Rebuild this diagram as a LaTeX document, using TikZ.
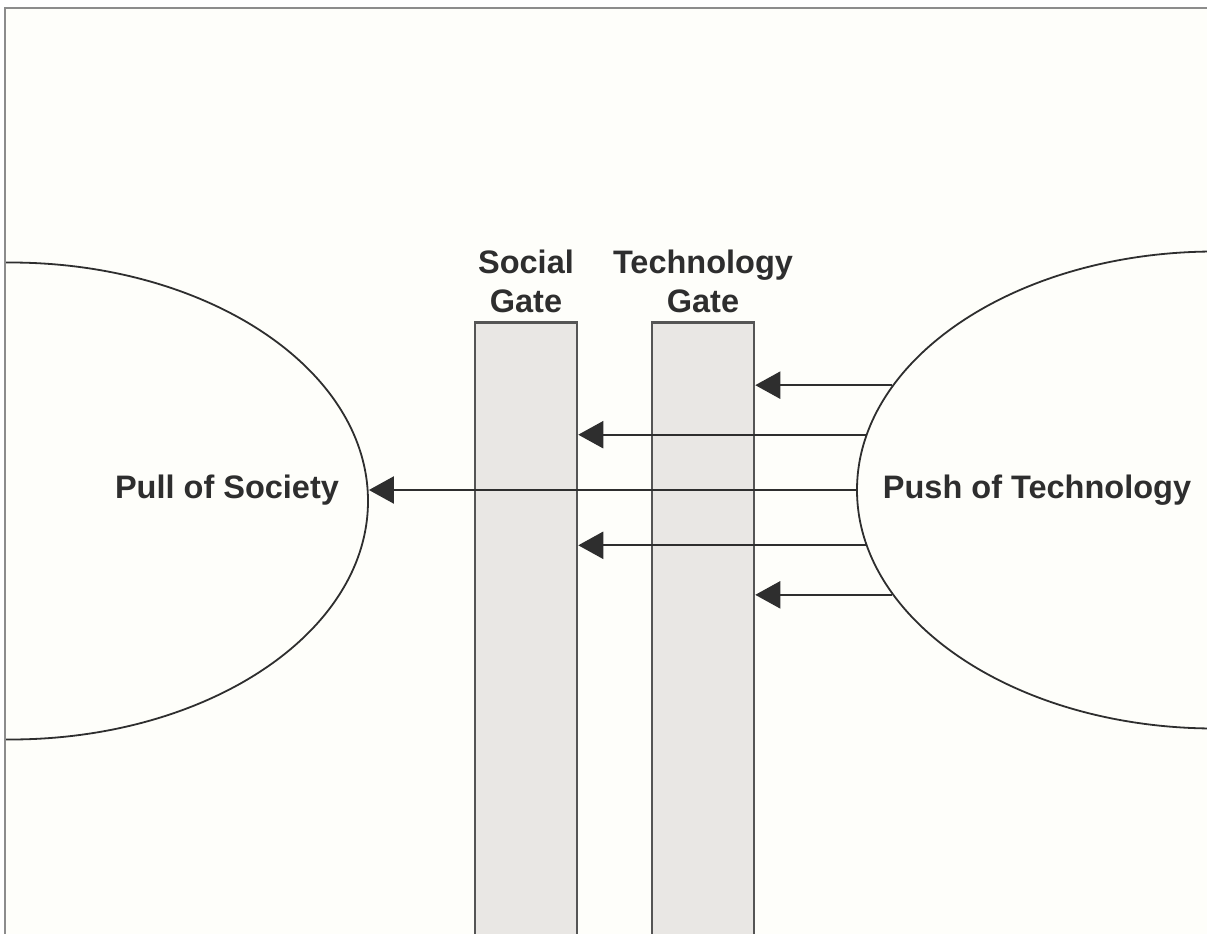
\documentclass[tikz,border=0pt]{standalone}
\usepackage{fontspec}
\setmainfont{Liberation Sans}
\usetikzlibrary{shapes.geometric,arrows.meta}
\definecolor{paper}{HTML}{FEFEFA}
\definecolor{frameline}{HTML}{8C8C8C}
\definecolor{ink}{HTML}{2E2E2E}
\definecolor{gatefill}{HTML}{E9E7E4}
\definecolor{gateline}{HTML}{555555}
\begin{document}
\begin{tikzpicture}[x=1pt,y=-1pt,
  blob/.style={ellipse,draw=ink,line width=1.8pt,minimum width=716pt,minimum height=477pt,inner sep=0pt},
  gatebar/.style={rectangle,draw=gateline,fill=gatefill,line width=2.5pt,minimum width=102pt,minimum height=640pt,inner sep=0pt},
  caption/.style={font=\bfseries\fontsize{32.5}{39}\selectfont,text=ink,inner sep=0pt},
  flow/.style={draw=ink,line width=2.2pt,-{Triangle[length=25pt,width=27pt]}},
]
\useasboundingbox (0,0) rectangle (1207,934);
\fill[white] (0,0) rectangle (1207,934);
\fill[paper] (5,8) rectangle (1207,934);
\begin{scope}
  \clip (5,8) rectangle (1207,934);
  % the two forces
  \node[blob] (pull) at (10,501) {};
  \node[blob] (push) at (1215,490) {};
  % the two gates
  \node[gatebar,anchor=north] (social) at (526,321) {};
  \node[gatebar,anchor=north] (tech) at (703,321) {};
  % gate captions
  \node[caption,anchor=base] (socialA) at (526,273) {Social};
  \node[caption,anchor=base] (socialB) at (526,312) {Gate};
  \node[caption,anchor=base] (techA) at (703,273) {Technology};
  \node[caption,anchor=base] (techB) at (703,312) {Gate};
  % force captions
  \node[caption,anchor=base] (pulltext) at (227,498) {Pull of Society};
  \node[caption,anchor=base] (pushtext) at (1037,498) {Push of Technology};
  % flows from technology towards society
  \draw[flow] (push.162) -- (push.162 -| tech.east);
  \draw[flow] (push.171.5) -- (push.171.5 -| social.east);
  \draw[flow] (push.west) -- (push.west -| pull.east);
  \draw[flow] (push.189) -- (push.189 -| social.east);
  \draw[flow] (push.198) -- (push.198 -| tech.east);
\end{scope}
% frame
\draw[frameline,line width=2pt] (1207,8) -- (5,8) -- (5,934);
\end{tikzpicture}
\end{document}
